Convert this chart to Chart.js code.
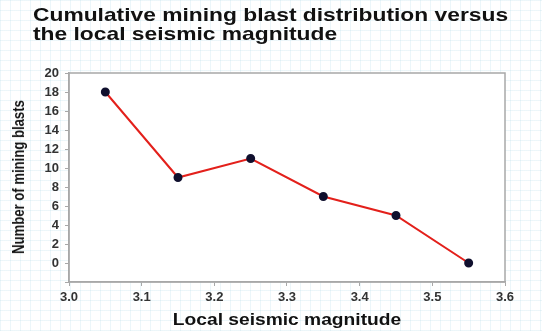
<!DOCTYPE html>
<html>
<head>
<meta charset="utf-8">
<script src="https://cdn.jsdelivr.net/npm/chart.js@4"></script>
<style>
    html, body { margin: 0; padding: 0; }
    body {
        width: 542px; height: 331px; overflow: hidden; position: relative;
        background-color: #ffffff;
        background-image:
            linear-gradient(to right, rgba(170, 215, 230, 0.22) 1px, transparent 1px),
            linear-gradient(to bottom, rgba(170, 215, 230, 0.22) 1px, transparent 1px);
        background-size: 10px 10px;
    }
    #title {
        position: absolute; left: 33px; top: 5px;
        font: bold 19px "Liberation Sans", Arial, sans-serif;
        line-height: 19px; color: #111;
        transform: scaleX(1.2); transform-origin: left top;
        white-space: nowrap;
    }
    #xtitle {
        position: absolute; left: 287px; top: 311px;
        font: bold 16px "Liberation Sans", Arial, sans-serif;
        line-height: 18px; color: #111;
        transform: translateX(-50%) scaleX(1.2);
        white-space: nowrap;
    }
    #ytitle {
        position: absolute; left: 19px; top: 177px;
        font: bold 16px "Liberation Sans", Arial, sans-serif;
        line-height: 16px; color: #111;
        transform: translate(-50%, -50%) rotate(-90deg) scaleX(0.82);
        white-space: nowrap;
    }
    #wrap { position: absolute; left: 0; top: 0; width: 542px; height: 331px; }
</style>
</head>
<body>
<div id="wrap"><canvas id="blastChart" width="542" height="331"></canvas></div>
<div id="title">Cumulative mining blast distribution versus<br>the local seismic magnitude</div>
<div id="xtitle">Local seismic magnitude</div>
<div id="ytitle">Number of mining blasts</div>
<script>
// Magnitude bins and cumulative blast counts
const magnitudes = [3.05, 3.15, 3.25, 3.35, 3.45, 3.55];
const blastCounts = [18, 9, 11, 7, 5, 0];

// White plot area with a grey frame
const plotFrame = {
    id: 'plotFrame',
    beforeDraw(chart) {
        const { ctx, chartArea: a } = chart;
        ctx.save();
        ctx.fillStyle = '#ffffff';
        ctx.fillRect(a.left, a.top, a.right - a.left, a.bottom - a.top);
        ctx.restore();
    },
    afterDraw(chart) {
        const { ctx, chartArea: a } = chart;
        ctx.save();
        ctx.strokeStyle = '#a8a8a8';
        ctx.lineWidth = 1.5;
        ctx.strokeRect(a.left, a.top, a.right - a.left, a.bottom - a.top);
        ctx.restore();
    }
};

const ctx = document.getElementById('blastChart').getContext('2d');
new Chart(ctx, {
    type: 'scatter',
    data: {
        datasets: [{
            data: magnitudes.map((m, i) => ({ x: m, y: blastCounts[i] })),
            showLine: true,
            borderColor: '#e3201b',
            borderWidth: 2,
            pointBackgroundColor: '#10102e',
            pointBorderColor: '#10102e',
            pointRadius: 3.5,
            pointHoverRadius: 3.5
        }]
    },
    options: {
        responsive: false,
        animation: false,
        layout: { padding: { top: 73, right: 37, left: 0, bottom: 0 } },
        plugins: {
            legend: { display: false },
            tooltip: { enabled: false }
        },
        scales: {
            x: {
                type: 'linear',
                min: 3.0,
                max: 3.6,
                afterFit: (scale) => { scale.height = 49; },
                ticks: {
                    stepSize: 0.1,
                    color: '#333',
                    font: { family: 'Liberation Sans', size: 13, weight: 'bold' },
                    padding: 4,
                    callback: (v) => v.toFixed(1)
                },
                grid: { drawOnChartArea: false, color: '#a8a8a8', tickLength: 4 },
                border: { color: '#a8a8a8', width: 1.5 }
            },
            y: {
                min: -2,
                max: 20,
                afterFit: (scale) => { scale.width = 69; },
                ticks: {
                    stepSize: 2,
                    color: '#333',
                    font: { family: 'Liberation Sans', size: 13, weight: 'bold' },
                    padding: 6,
                    callback: (v) => (v < 0 ? '' : v)
                },
                grid: { drawOnChartArea: false, color: '#a8a8a8', tickLength: 4 },
                border: { color: '#a8a8a8', width: 1.5 }
            }
        }
    },
    plugins: [plotFrame]
});
</script>
</body>
</html>
